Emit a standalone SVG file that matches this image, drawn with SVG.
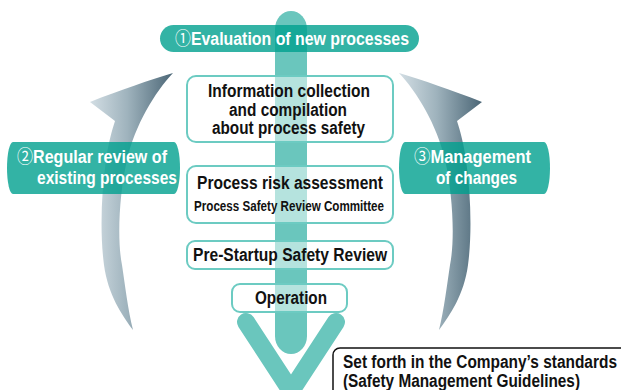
<svg xmlns="http://www.w3.org/2000/svg" width="621" height="390" viewBox="0 0 621 390">
<style>
.t{font-family:"Liberation Sans Narrow","Liberation Sans",Arial,sans-serif;font-weight:bold;font-size:18px}
.s{font-size:15.5px}
.w{fill:#ffffff}
.k{fill:#111111}
.c{font-family:"Noto Sans CJK JP","DejaVu Sans",sans-serif;font-weight:normal}
.box{fill:#ffffff;fill-opacity:0.5;stroke:#6ccbc2;stroke-width:2}
.pill{fill:#00a08e;fill-opacity:0.8}
</style>
<defs>
<linearGradient id="gL" x1="0" y1="0" x2="1" y2="0">
<stop offset="0" stop-color="#d3dee4"/>
<stop offset="0.45" stop-color="#9fb3bd"/>
<stop offset="1" stop-color="#4b6676"/>
</linearGradient>
<linearGradient id="gR" x1="1" y1="0" x2="0" y2="0">
<stop offset="0" stop-color="#d3dee4"/>
<stop offset="0.45" stop-color="#9fb3bd"/>
<stop offset="1" stop-color="#4b6676"/>
</linearGradient>
<path id="arr" d="M173,73 C155,92 135,125 127,160 C119,195 117,240 122,265 C125,285 128,310 133,330 C122,315 108,295 104,265 C100,235 101,195 106,160 C108,145 112,130 115,121 L90,102 C120,90 150,80 173,73 Z"/>
</defs>
<g id="connectors">
<use id="arrow-left" href="#arr" fill="url(#gL)"/>
<use id="arrow-right" href="#arr" fill="url(#gR)" transform="translate(572,0) scale(-1,1)"/>
<rect id="flow-bar" x="275" y="11" width="32" height="343" rx="16" ry="18" fill="#6ac6bd"/>
<polyline id="flow-head" points="246,322 291,391 336,322" fill="none" stroke="#6ac6bd" stroke-width="18" stroke-linecap="round" stroke-linejoin="miter"/>
</g>
<g id="info">
<rect class="box" x="187" y="76" width="206" height="66" rx="9"/>
<text class="t k" x="208" y="97" textLength="162" lengthAdjust="spacingAndGlyphs">Information collection</text>
<text class="t k" x="229" y="115.5" textLength="118" lengthAdjust="spacingAndGlyphs">and compilation</text>
<text class="t k" x="212" y="134" textLength="153" lengthAdjust="spacingAndGlyphs">about process safety</text>
</g>
<g id="risk">
<rect class="box" x="187" y="166" width="206" height="57" rx="9"/>
<text class="t k" x="197" y="189" textLength="186" lengthAdjust="spacingAndGlyphs">Process risk assessment</text>
<text class="t k s" x="194" y="211" textLength="190" lengthAdjust="spacingAndGlyphs">Process Safety Review Committee</text>
</g>
<g id="pssr">
<rect class="box" x="187" y="241" width="206" height="28" rx="8"/>
<text class="t k" x="193" y="261" textLength="194" lengthAdjust="spacingAndGlyphs">Pre-Startup Safety Review</text>
</g>
<g id="operation">
<rect class="box" x="232" y="284" width="115" height="28" rx="8"/>
<text class="t k" x="255" y="303.5" textLength="72" lengthAdjust="spacingAndGlyphs">Operation</text>
</g>
<g id="evaluation">
<rect class="pill" x="160" y="25" width="259" height="27" rx="13.5"/>
<text class="t w" x="175" y="45" textLength="234" lengthAdjust="spacingAndGlyphs"><tspan class="c">①</tspan>Evaluation of new processes</text>
</g>
<g id="regular-review">
<path class="pill" d="M13,142 H174 A6,26 0 0 1 174,194 H13 A6,26 0 0 1 13,142 Z"/>
<text class="t w" x="17" y="163" textLength="150" lengthAdjust="spacingAndGlyphs"><tspan class="c">②</tspan>Regular review of</text>
<text class="t w" x="37" y="184" textLength="140" lengthAdjust="spacingAndGlyphs">existing processes</text>
</g>
<g id="management">
<path class="pill" d="M405,142 H544 A6,26 0 0 1 544,194 H405 A6,26 0 0 1 405,142 Z"/>
<text class="t w" x="414" y="163" textLength="117" lengthAdjust="spacingAndGlyphs"><tspan class="c">③</tspan>Management</text>
<text class="t w" x="436" y="184" textLength="81" lengthAdjust="spacingAndGlyphs">of changes</text>
</g>
<g id="standards">
<rect x="333" y="348" width="310" height="60" rx="7" fill="#ffffff" stroke="#111111" stroke-width="1.5"/>
<text class="t k" x="343" y="368" textLength="274" lengthAdjust="spacingAndGlyphs">Set forth in the Company’s standards</text>
<text class="t k" x="343" y="387" textLength="237" lengthAdjust="spacingAndGlyphs">(Safety Management Guidelines)</text>
</g>
</svg>
